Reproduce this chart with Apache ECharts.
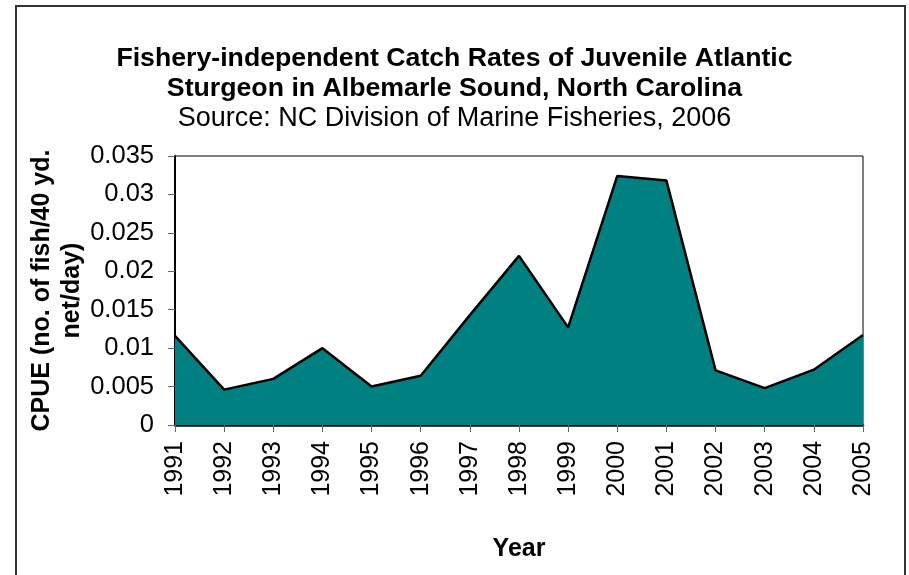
<!DOCTYPE html>
<html>
<head>
<meta charset="utf-8">
<script src="https://cdn.jsdelivr.net/npm/echarts@6/dist/echarts.min.js"></script>
<style>
  html, body { margin: 0; padding: 0; background: #fff; }
  #chart { width: 909px; height: 575px; }
</style>
</head>
<body>
<div id="chart"></div>
<script>
// catch rates
const years = ["1991", "1992", "1993", "1994", "1995", "1996", "1997", "1998",
    "1999", "2000", "2001", "2002", "2003", "2004", "2005"];
const cpue = [0.0116, 0.0046, 0.006, 0.01, 0.005, 0.0064, 0.0143, 0.022,
    0.0127, 0.0324, 0.0318, 0.0071, 0.0048, 0.0072, 0.0117];

const titleText = "Fishery-independent Catch Rates of Juvenile Atlantic\nSturgeon in Albemarle Sound, North Carolina";
const subText = "Source: NC Division of Marine Fisheries, 2006";
const yName = "CPUE (no. of fish/40 yd.\nnet/day)";
const xName = "Year";

const font = "Arial, 'Liberation Sans', sans-serif";

const chart = echarts.init(document.getElementById("chart"));

const option = {
    backgroundColor: "#fff",
    animation: false,
    title: {
        text: titleText,
        subtext: subText,
        left: "center",
        top: 39,
        itemGap: 0,
        textStyle: {
            fontFamily: font,
            fontSize: 26.7,
            fontWeight: "bold",
            color: "#000",
            lineHeight: 30
        },
        subtextStyle: {
            fontFamily: font,
            fontSize: 27,
            color: "#000",
            lineHeight: 30
        }
    },
    graphic: [{
        type: "rect",
        shape: { x: 16, y: 6, width: 889, height: 620 },
        style: { fill: null, stroke: "#333", lineWidth: 2 },
        silent: true
    }],
    grid: {
        left: 175,
        right: 46,
        top: 156,
        bottom: 150,
        show: true,
        borderColor: "#000",
        borderWidth: 1,
        backgroundColor: "transparent"
    },
    xAxis: {
        type: "category",
        data: years,
        boundaryGap: false,
        name: xName,
        nameLocation: "middle",
        nameGap: 112,
        nameMoveOverlap: false,
        nameTextStyle: {
            fontFamily: font,
            fontSize: 25,
            fontWeight: "bold",
            color: "#000"
        },
        axisLine: { lineStyle: { color: "#000", width: 2.5 } },
        axisTick: { length: 7, lineStyle: { color: "#666" } },
        axisLabel: {
            rotate: 90,
            margin: 16,
            interval: 0,
            fontFamily: font,
            fontSize: 25,
            color: "#000"
        },
        splitLine: { show: false }
    },
    yAxis: {
        type: "value",
        min: 0,
        max: 0.035,
        interval: 0.005,
        name: yName,
        nameLocation: "middle",
        nameGap: 88,
        nameMoveOverlap: false,
        nameTextStyle: {
            fontFamily: font,
            fontSize: 25,
            fontWeight: "bold",
            color: "#000",
            lineHeight: 30
        },
        axisLine: { show: true, lineStyle: { color: "#000", width: 2 } },
        axisTick: { show: true, length: 7, lineStyle: { color: "#666" } },
        axisLabel: {
            margin: 21,
            fontFamily: font,
            fontSize: 25.5,
            color: "#000",
            formatter: v => String(parseFloat(v.toFixed(3)))
        },
        splitLine: { show: false }
    },
    series: [{
        type: "line",
        data: cpue,
        symbol: "none",
        lineStyle: { color: "#000", width: 2.5 },
        areaStyle: { color: "#008080", opacity: 1 }
    }]
};

chart.setOption(option);
</script>
</body>
</html>
